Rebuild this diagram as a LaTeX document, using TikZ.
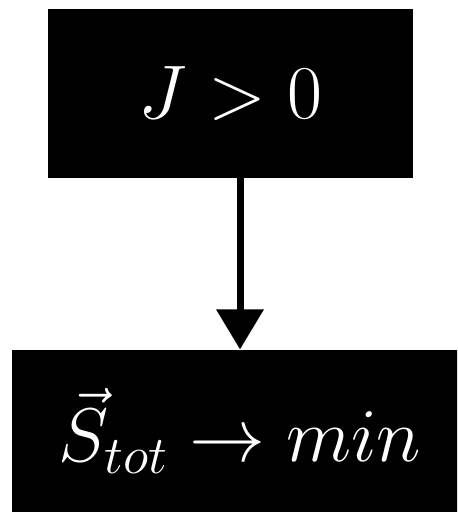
\RequirePackage{fix-cm}
\documentclass[tikz,border=0pt]{standalone}
\usepackage{amsmath}
\usepackage{tikz}
\usetikzlibrary{arrows.meta,positioning}

\begin{document}
\begin{tikzpicture}[
    node distance=85.5pt,
    state/.style={fill=black, text=white, inner sep=0pt, align=center, font=\fontsize{38}{42}\selectfont},
    arrow/.style={-{Triangle[width=23pt,length=20pt]}, line width=3.5pt}
]
\useasboundingbox (0,0) rectangle (228.5pt,-256.5pt);
\begin{scope}
\clip (0,0) rectangle (228.5pt,-256.5pt);

\node[state, minimum width=182.5pt, minimum height=84.5pt] at (115.25pt,-46.75pt) (coupling) {$J > 0$};
\node[state, minimum width=228pt, minimum height=81pt, below=of coupling, xshift=4.75pt] (spin) {$\vec{S}_{tot} \to min$};

\draw[arrow] (spin.north |- coupling.south) -- (spin.north);
\end{scope}

\end{tikzpicture}
\end{document}
